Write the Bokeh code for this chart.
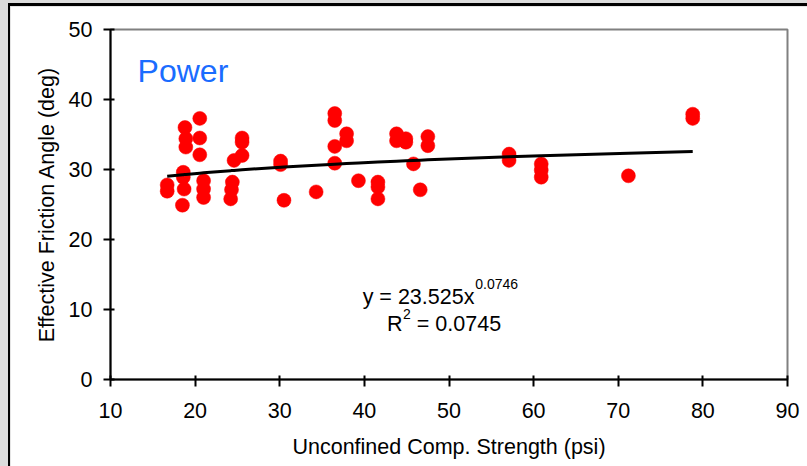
import numpy as np
from bokeh.plotting import figure
from bokeh.models import Label, ColumnDataSource, GlobalInlineStyleSheet
from bokeh.embed import file_html
from bokeh.resources import INLINE

# ---- data ----
ucs_psi = [16.7, 16.7, 18.5, 18.7, 18.6, 18.6, 18.9, 18.9, 18.8,
           20.55, 20.55, 20.55, 21.0, 21.0, 21.0,
           24.6, 25.55, 25.55, 25.55, 24.4, 24.3, 24.2,
           30.1, 30.1, 30.5, 34.3,
           36.5, 36.5, 36.5, 36.5, 37.9, 37.9,
           39.3, 41.6, 41.6, 41.6,
           43.8, 43.8, 44.9, 44.9, 45.8, 46.6, 47.5, 47.5,
           57.1, 57.1, 60.9, 60.9, 60.9, 71.2, 78.8, 78.8]
phi_deg = [27.8, 26.9, 24.9, 27.2, 28.9, 29.6, 33.2, 34.4, 36.0,
           37.3, 34.5, 32.1, 28.4, 27.2, 26.0,
           31.3, 34.5, 33.9, 32.0, 28.2, 27.1, 25.8,
           31.2, 30.7, 25.6, 26.8,
           38.0, 37.0, 33.3, 30.9, 35.1, 34.1,
           28.4, 28.2, 27.5, 25.8,
           35.1, 34.1, 34.4, 33.9, 30.8, 27.1, 34.7, 33.4,
           32.2, 31.3, 30.8, 29.9, 28.9, 29.1, 37.9, 37.3]

fit_coef = 23.525
fit_exp = 0.0746
fit_r2 = 0.0745

x_ticks = [10, 20, 30, 40, 50, 60, 70, 80, 90]
y_ticks = [0, 10, 20, 30, 40, 50]

FONT = "Liberation Sans"
FS = "21.5px"

p = figure(output_backend="svg", toolbar_location=None,
           frame_width=677, frame_height=350,
           x_range=(10, 90), y_range=(0, 50),
           min_border_left=100, min_border_right=20,
           min_border_top=23, min_border_bottom=87,
           background_fill_color="white", border_fill_color="white")

p.styles = {"margin-left": "8px", "margin-top": "3px",
            "border-left": "2px solid black", "border-top": "3px solid black"}
p.stylesheets = [GlobalInlineStyleSheet(css="body { background: #dcdcdc; }")]

p.grid.visible = False
p.outline_line_color = "#808080"
p.outline_line_width = 2

for ax in (p.xaxis[0], p.yaxis[0]):
    ax.axis_line_color = "black"
    ax.axis_line_width = 2
    ax.major_tick_line_color = "black"
    ax.major_tick_line_width = 2
    ax.minor_tick_line_color = "black"
    ax.minor_tick_line_width = 2
    ax.major_tick_out = 7
    ax.major_tick_in = 4
    ax.minor_tick_out = 0
    ax.minor_tick_in = 5
    ax.major_label_text_font = FONT
    ax.major_label_text_font_size = FS
    ax.major_label_text_color = "black"
    ax.axis_label_text_font = FONT
    ax.axis_label_text_font_size = FS
    ax.axis_label_text_font_style = "normal"
    ax.axis_label_text_color = "black"

p.xaxis.ticker = x_ticks
p.yaxis.ticker = y_ticks
p.xaxis[0].ticker.num_minor_ticks = 5
p.yaxis[0].ticker.num_minor_ticks = 5
p.xaxis.axis_label = "Unconfined Comp. Strength (psi)"
p.yaxis.axis_label = "Effective Friction Angle (deg)"
p.xaxis.major_label_standoff = 16
p.xaxis.axis_label_standoff = 14
p.yaxis.major_label_standoff = 11
p.yaxis.axis_label_standoff = 7

# scatter
src = ColumnDataSource(dict(x=ucs_psi, y=phi_deg))
p.scatter("x", "y", source=src, size=14, fill_color="#ff0000",
          line_color="#ff0000", line_width=0.5)

# power trendline evaluated at the data x values
xs = np.array(sorted(set(ucs_psi)))
p.line(xs, fit_coef * xs ** fit_exp, line_color="black", line_width=3)

# labels
p.add_layout(Label(x=13.2, y=44.1, text="Power", text_font=FONT,
                   text_font_size="32px", text_color="#1a6cff",
                   text_baseline="alphabetic"))

p.add_layout(Label(x=53.0, y=11.8, text=f"y = {fit_coef:.3f}x", text_font=FONT,
                   text_font_size=FS, text_align="right", text_color="black",
                   text_baseline="alphabetic"))
p.add_layout(Label(x=53.1, y=13.6, text=f"{fit_exp:.4f}", text_font=FONT,
                   text_font_size="14px", text_align="left", text_color="black",
                   text_baseline="alphabetic"))
p.add_layout(Label(x=44.5, y=7.86, text="R", text_font=FONT,
                   text_font_size=FS, text_align="right", text_color="black",
                   text_baseline="alphabetic"))
p.add_layout(Label(x=44.55, y=9.4, text="2", text_font=FONT,
                   text_font_size="14px", text_align="left", text_color="black",
                   text_baseline="alphabetic"))
p.add_layout(Label(x=46.2, y=7.86, text=f"= {fit_r2:.4f}", text_font=FONT,
                   text_font_size=FS, text_align="left", text_color="black",
                   text_baseline="alphabetic"))

open("out.html", "w").write(file_html(p, INLINE))
